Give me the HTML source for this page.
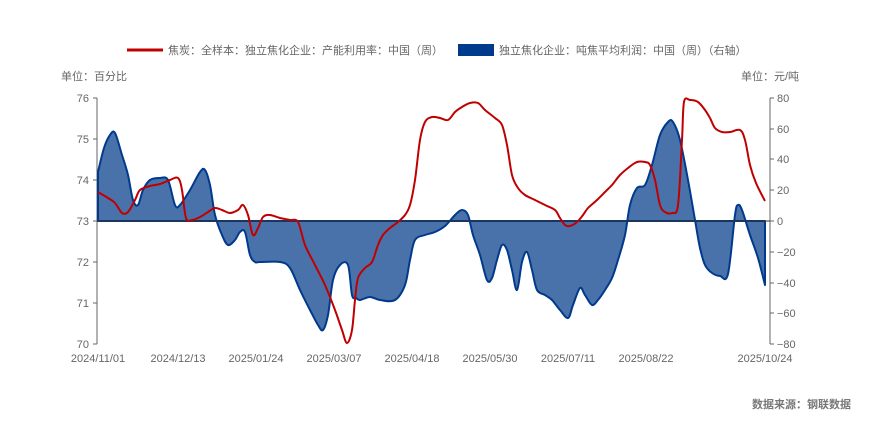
<!DOCTYPE html>
<html><head><meta charset="utf-8"><style>
body{margin:0;background:#fff;width:870px;height:419px;overflow:hidden}
text{font-family:"Liberation Sans","Noto Sans CJK SC",sans-serif;fill:#666;font-size:11px}
</style></head><body>
<svg width="870" height="419" xmlns="http://www.w3.org/2000/svg">
<line x1="127" y1="50" x2="163" y2="50" stroke="#c00000" stroke-width="3"/>
<text x="168" y="54">焦炭：全样本：独立焦化企业：产能利用率：中国（周）</text>
<rect x="458" y="44" width="36" height="12" fill="#003a8c"/>
<text x="499" y="54">独立焦化企业：吨焦平均利润：中国（周）（右轴）</text>
<text x="61" y="80">单位：百分比</text>
<text x="741" y="80">单位：元/吨</text>
<line x1="97" y1="98" x2="97" y2="344" stroke="#666"/>
<g stroke="#666"><line x1="93" y1="98" x2="97" y2="98"/><line x1="93" y1="139" x2="97" y2="139"/><line x1="93" y1="180" x2="97" y2="180"/><line x1="93" y1="221" x2="97" y2="221"/><line x1="93" y1="262" x2="97" y2="262"/><line x1="93" y1="303" x2="97" y2="303"/><line x1="93" y1="344" x2="97" y2="344"/></g>
<g text-anchor="end"><text x="89" y="102">76</text><text x="89" y="143">75</text><text x="89" y="184">74</text><text x="89" y="225">73</text><text x="89" y="266">72</text><text x="89" y="307">71</text><text x="89" y="348">70</text></g>
<line x1="770" y1="98" x2="770" y2="344" stroke="#666"/>
<g stroke="#666"><line x1="770" y1="98" x2="774" y2="98"/><line x1="770" y1="129" x2="774" y2="129"/><line x1="770" y1="159" x2="774" y2="159"/><line x1="770" y1="190" x2="774" y2="190"/><line x1="770" y1="221" x2="774" y2="221"/><line x1="770" y1="252" x2="774" y2="252"/><line x1="770" y1="283" x2="774" y2="283"/><line x1="770" y1="313" x2="774" y2="313"/><line x1="770" y1="344" x2="774" y2="344"/></g>
<g><text x="777" y="102">80</text><text x="777" y="133">60</text><text x="777" y="163">40</text><text x="777" y="194">20</text><text x="777" y="225">0</text><text x="777" y="256">−20</text><text x="777" y="287">−40</text><text x="777" y="317">−60</text><text x="777" y="348">−80</text></g>
<g text-anchor="middle"><text x="98" y="362">2024/11/01</text><text x="178" y="362">2024/12/13</text><text x="256" y="362">2025/01/24</text><text x="334" y="362">2025/03/07</text><text x="412" y="362">2025/04/18</text><text x="490" y="362">2025/05/30</text><text x="568" y="362">2025/07/11</text><text x="646" y="362">2025/08/22</text><text x="765" y="362">2025/10/24</text></g>
<text x="851" y="408" text-anchor="end" font-weight="bold" style="fill:#777">数据来源：钢联数据</text>
<path id="blue" fill="#4a72aa" stroke="#003a8c" stroke-width="2" stroke-linejoin="round"/>
<line x1="97" y1="221" x2="770" y2="221" stroke="#333" stroke-width="1"/>
<path id="red" fill="none" stroke="#c00000" stroke-width="2" stroke-linejoin="round"/>
</svg>
<script>
function smooth(s){var p=s.trim().split(/\s+/).map(function(t){return t.split(',').map(Number)});
var d='M'+p[0][0]+','+p[0][1];
for(var i=0;i<p.length-1;i++){var a=p[i-1]||p[i],b=p[i],c=p[i+1],e=p[i+2]||c;
var c1x=b[0]+(c[0]-a[0])/6,c1y=b[1]+(c[1]-a[1])/6,c2x=c[0]-(e[0]-b[0])/6,c2y=c[1]-(e[1]-b[1])/6;
d+=' C'+c1x.toFixed(1)+','+c1y.toFixed(1)+' '+c2x.toFixed(1)+','+c2y.toFixed(1)+' '+c[0]+','+c[1];}
return d;}
var B="98,172 104,148 110,135 115,133 122,155 128,175 133,200 138,205 143,190 150,180 160,178 168,180 175,205 180,205 190,190 200,172 205,170 210,185 215,215 222,235 228,245 235,240 240,232 245,232 250,255 255,262 260,262 280,262 290,268 300,290 310,310 318,325 323,330 328,315 333,280 340,265 348,265 352,295 356,298 360,300 370,297 380,300 395,300 405,285 410,260 415,240 425,235 435,232 445,226 455,215 462,210 468,215 473,235 480,255 487,280 492,278 497,260 502,245 507,250 512,270 517,290 522,262 527,252 532,270 537,290 545,295 552,300 560,310 568,318 573,305 580,288 585,295 592,305 598,300 605,290 612,278 618,260 625,235 630,205 637,188 645,185 652,165 660,135 668,122 673,122 680,140 688,180 695,220 700,248 705,265 712,273 720,276 728,274 735,215 738,205 742,210 750,235 758,258 765,285";
var R="98,192 108,198 115,203 122,213 128,212 135,200 140,190 150,186 160,184 170,180 178,178 182,190 186,218 192,220 200,217 208,212 215,208 222,210 230,213 238,210 243,205 248,215 253,235 258,228 263,217 270,215 280,218 290,220 298,222 305,245 315,265 325,285 335,310 342,330 347,343 352,330 355,300 358,278 365,268 372,262 378,245 383,235 390,228 398,222 405,215 410,205 415,180 420,140 425,122 432,117 440,118 448,120 455,112 462,107 470,103 478,103 485,110 495,118 502,125 507,145 512,175 518,188 525,195 535,200 545,205 555,210 560,218 565,225 570,226 577,222 583,215 588,208 597,200 605,192 612,185 620,175 628,168 637,162 645,162 650,165 655,180 660,205 665,212 672,213 678,205 682,140 684,102 690,100 698,102 705,110 710,118 715,128 722,132 730,132 740,130 745,140 750,165 756,183 765,201";
document.getElementById('blue').setAttribute('d','M98,221 L'+smooth(B).slice(1)+' L765,221 Z');
document.getElementById('red').setAttribute('d',smooth(R));
</script>
</body></html>
